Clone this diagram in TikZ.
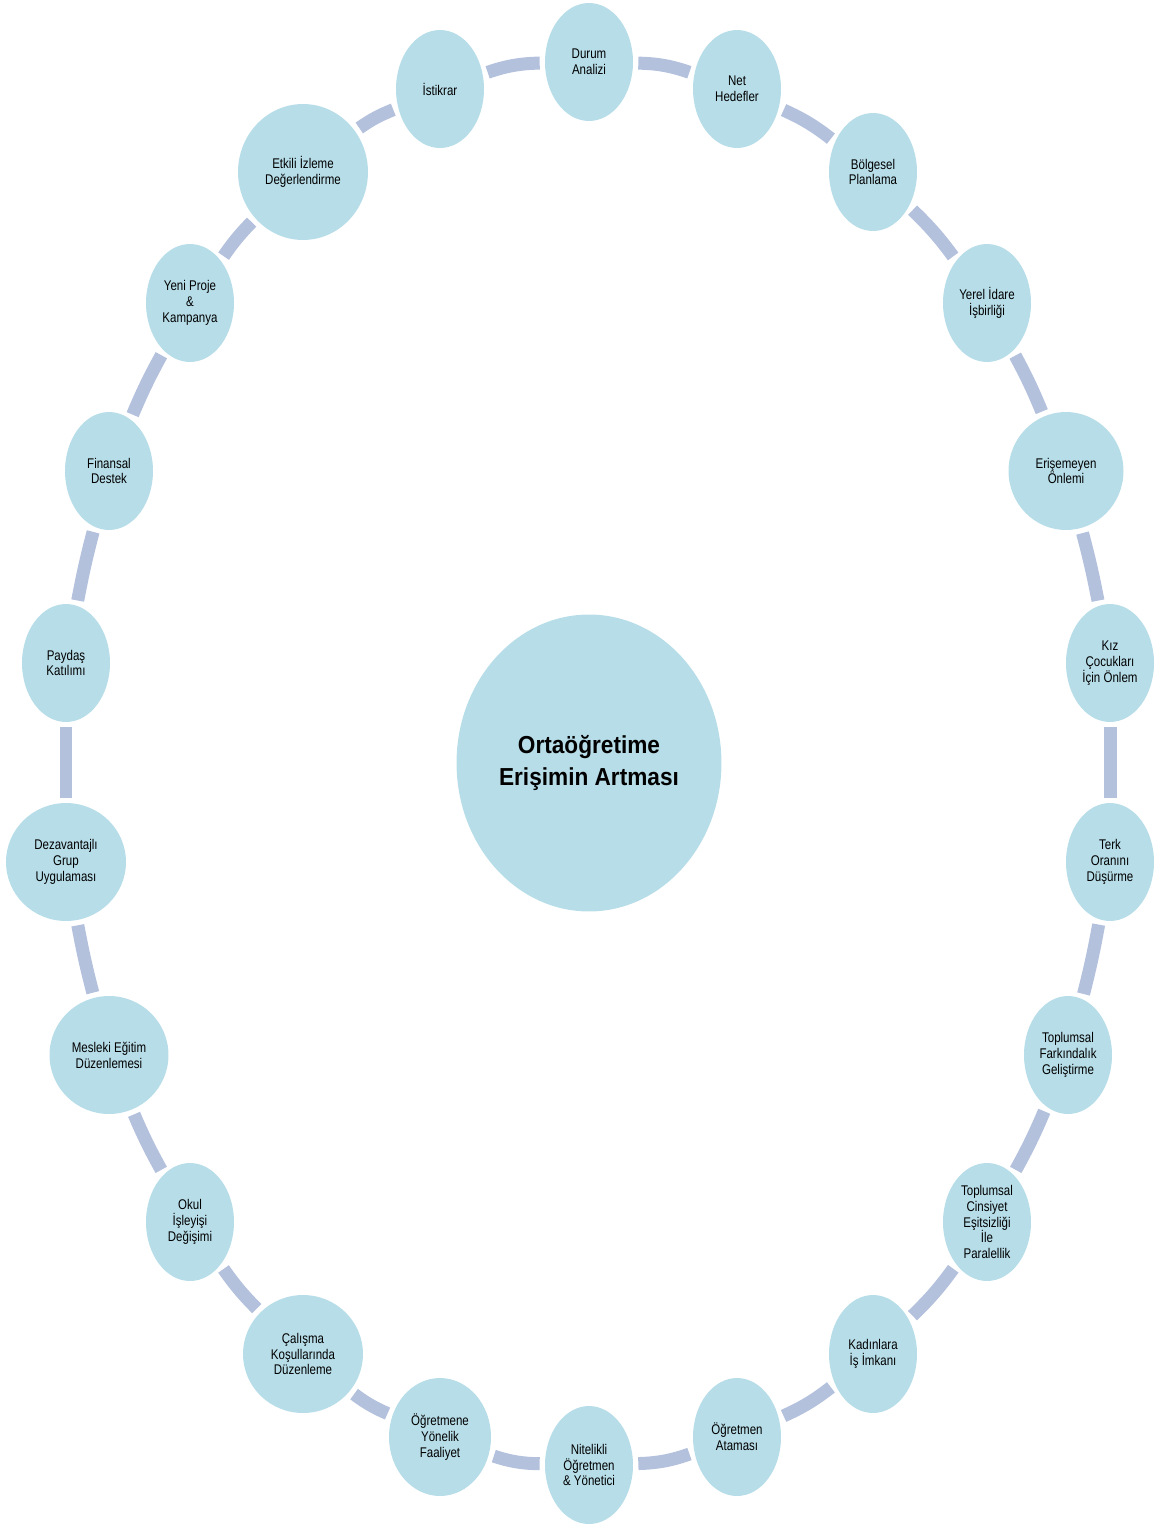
\documentclass[tikz,border=0pt]{standalone}
\usepackage{fontspec}
\setmainfont{Liberation Sans}[FakeStretch=0.82]
\newfontfamily\hubfont{Liberation Sans}[FakeStretch=0.92]
\usetikzlibrary{shapes.geometric}
\definecolor{ringblue}{RGB}{183,221,232}
\definecolor{linkblue}{RGB}{180,193,221}
\begin{document}
\begin{tikzpicture}[x=0.02cm,y=-0.02cm]
    \tikzstyle{item}=[ellipse, fill=ringblue, inner sep=0pt, minimum width=1.76cm, minimum height=2.36cm, align=center, font=\fontsize{8}{9}\selectfont]
    \tikzstyle{hub}=[ellipse, fill=ringblue, inner sep=0pt, minimum width=5.3cm, minimum height=5.94cm, align=center, font=\hubfont\bfseries\fontsize{14}{18}\selectfont]
    \tikzstyle{link}=[draw=linkblue, line width=0.26cm, shorten <=0.1cm, shorten >=0.1cm]
    \useasboundingbox (0,0) rectangle (1163,1528);
    % centre
    \node[hub] (hub) at (589,763) {Ortaöğretime\\Erişimin Artması};
    % ring, clockwise from the top
    \node[item] (n1) at (589,62) {Durum\\Analizi};
    \node[item] (n2) at (737,89) {Net\\Hedefler};
    \node[item] (n3) at (873,172) {Bölgesel\\Planlama};
    \node[item] (n4) at (987,303) {Yerel İdare\\İşbirliği};
    \node[item, minimum width=2.3cm] (n5) at (1066,471) {Erişemeyen\\Önlemi};
    \node[item] (n6) at (1110,663) {Kız\\Çocukları\\İçin Önlem};
    \node[item] (n7) at (1110,862) {Terk\\Oranını\\Düşürme};
    \node[item] (n8) at (1068,1055) {Toplumsal\\Farkındalık\\Geliştirme};
    \node[item] (n9) at (987,1222) {Toplumsal\\Cinsiyet\\Eşitsizliği\\İle\\Paralellik};
    \node[item] (n10) at (873,1354) {Kadınlara\\İş İmkanı};
    \node[item] (n11) at (737,1437) {Öğretmen\\Ataması};
    \node[item] (n12) at (589,1465) {Nitelikli\\Öğretmen\\\& Yönetici};
    \node[item, minimum width=2.04cm] (n13) at (440,1437) {Öğretmene\\Yönelik\\Faaliyet};
    \node[item, minimum width=2.4cm] (n14) at (303,1354) {Çalışma\\Koşullarında\\Düzenleme};
    \node[item] (n15) at (190,1222) {Okul\\İşleyişi\\Değişimi};
    \node[item, minimum width=2.38cm] (n16) at (109,1055) {Mesleki Eğitim\\Düzenlemesi};
    \node[item, minimum width=2.4cm] (n17) at (66,862) {Dezavantajlı\\Grup\\Uygulaması};
    \node[item] (n18) at (66,663) {Paydaş\\Katılımı};
    \node[item] (n19) at (109,471) {Finansal\\Destek};
    \node[item] (n20) at (190,303) {Yeni Proje\\\&\\Kampanya};
    \node[item, minimum width=2.6cm, minimum height=2.72cm] (n21) at (303,172) {Etkili İzleme\\Değerlendirme};
    \node[item] (n22) at (440,89) {İstikrar};
    % links between neighbours, flatter on the sides
    \foreach \a/\b/\k in {n1/n2/9,n2/n3/7,n3/n4/5,n4/n5/3,n5/n6/2,n6/n7/0,n7/n8/2,n8/n9/3,n9/n10/5,n10/n11/7,n11/n12/9,
                          n12/n13/9,n13/n14/7,n14/n15/5,n15/n16/3,n16/n17/2,n17/n18/0,n18/n19/2,n19/n20/3,n20/n21/5,n21/n22/7,n22/n1/9}
        \draw[link] (\a) to[bend left=\k] (\b);
\end{tikzpicture}
\end{document}
